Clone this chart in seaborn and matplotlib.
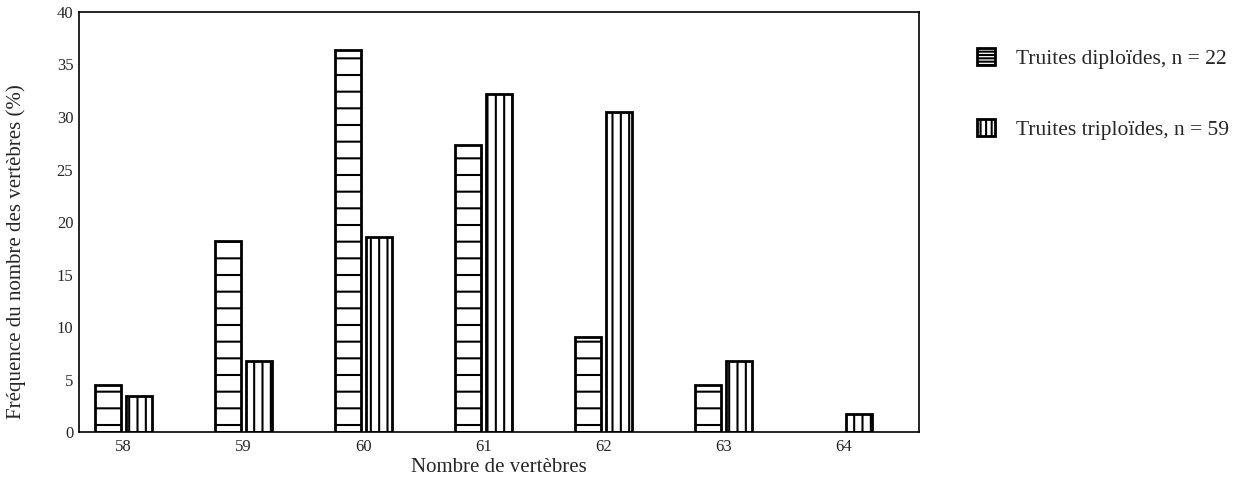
import pandas as pd
import matplotlib
matplotlib.use("Agg")
import matplotlib.pyplot as plt
from matplotlib.patches import Patch
import seaborn as sns

# nombre de vertèbres et fréquences (%)
vertebres = ["58", "59", "60", "61", "62", "63", "64"]
diploides = [4.5, 18.2, 36.4, 27.3, 9.1, 4.5, 0.0]
triploides = [3.4, 6.8, 18.6, 32.2, 30.5, 6.8, 1.7]
groupes = ["Truites diploïdes, n = 22", "Truites triploïdes, n = 59"]

df = pd.DataFrame({
    "vertebres": vertebres * 2,
    "freq": diploides + triploides,
    "groupe": [groupes[0]] * len(vertebres) + [groupes[1]] * len(vertebres),
})

sns.set_style("white")
plt.rcParams["font.family"] = ["Liberation Serif", "DejaVu Serif"]
plt.rcParams["hatch.linewidth"] = 1.5
plt.rcParams["hatch.color"] = "black"

fig = plt.figure(figsize=(12.33, 4.78), dpi=100)
ax = fig.add_axes([0.064, 0.096, 0.681, 0.879])

sns.barplot(data=df, x="vertebres", y="freq", hue="groupe", order=vertebres,
            hue_order=groupes, width=0.525, gap=0.17, ax=ax, legend=False)

hatches = ["-", "||"]
for cont, h in zip(ax.containers, hatches):
    for bar in cont:
        bar.set_facecolor("white")
        bar.set_edgecolor("black")
        bar.set_linewidth(2.0)
        bar.set_hatch(h)
        if bar.get_height() == 0:
            bar.set_visible(False)

ax.set_xlim(-0.373, 6.628)
ax.set_ylim(0, 40)
ax.set_yticks(range(0, 41, 5))
for s in ax.spines.values():
    s.set_color("black")
    s.set_linewidth(1.2)
ax.tick_params(axis="y", length=4, width=1, color="black", labelsize=12, pad=0)
ax.tick_params(axis="x", length=0, labelsize=12, pad=5)
ax.set_xlabel("Nombre de vertèbres", fontsize=15, labelpad=2)
ax.set_ylabel("Fréquence du nombre des vertèbres (%)", fontsize=15)
ax.yaxis.set_label_coords(-0.063, 0.43)

handles = [Patch(facecolor="white", edgecolor="black", linewidth=2.0, hatch="-----"),
           Patch(facecolor="white", edgecolor="black", linewidth=2.0, hatch="|||")]
fig.legend(handles, groupes, loc="upper left", bbox_to_anchor=(0.777, 0.94),
           frameon=False, fontsize=15.5, handlelength=0.84, handleheight=0.84,
           handletextpad=0.93, labelspacing=2.3)

fig.savefig("out.png", dpi=100)
